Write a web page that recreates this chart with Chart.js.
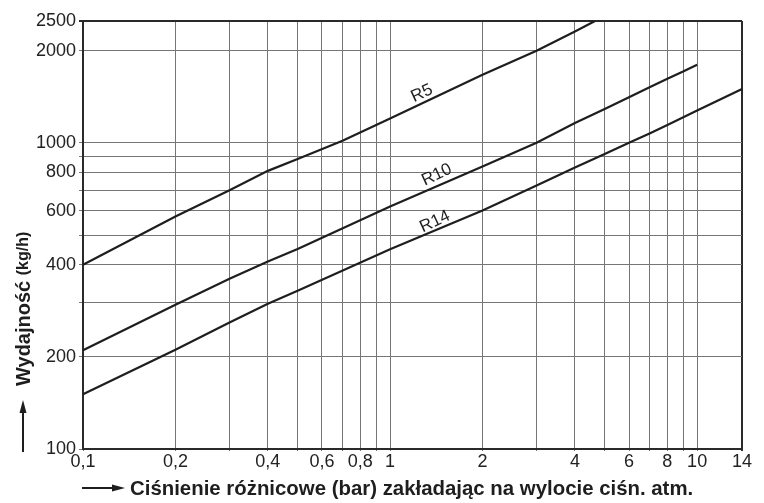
<!DOCTYPE html>
<html>
<head>
<meta charset="utf-8">
<script src="https://cdn.jsdelivr.net/npm/chart.js@4.4.1/dist/chart.umd.min.js"></script>
<style>
    html, body { margin: 0; padding: 0; background: #fff; }
    #wrap { width: 764px; height: 503px; }
</style>
</head>
<body>
<div id="wrap"><canvas id="chart" width="764" height="503"></canvas></div>
<script>

/* ---------- Data ---------- */

// differential pressure (bar) / capacity (kg/h)
const r5Pressure = [0.1, 0.2, 0.3, 0.4, 0.5, 0.7, 1, 2, 3, 4, 4.65];
const r5Flow = [400, 575, 700, 810, 885, 1015, 1200, 1670, 2000, 2310, 2500];

const r10Pressure = [0.1, 0.2, 0.3, 0.4, 0.5, 1, 2, 3, 4, 5, 6, 7, 8, 9, 10];
const r10Flow = [210, 296, 360, 410, 450, 620, 837, 1000, 1160, 1290, 1410, 1520, 1620, 1710, 1800];

const r14Pressure = [0.1, 0.2, 0.3, 0.4, 0.5, 1, 2, 3, 4, 5, 6, 7, 8, 10, 14];
const r14Flow = [151, 211, 259, 298, 329, 449, 601, 725, 830, 920, 1000, 1073, 1143, 1275, 1498];

const xGrid = [0.1, 0.2, 0.3, 0.4, 0.5, 0.6, 0.7, 0.8, 0.9, 1, 2, 3, 4, 5, 6, 7, 8, 9, 10, 14];
const xTickLabels = [0.1, 0.2, 0.4, 0.6, 0.8, 1, 2, 4, 6, 8, 10, 14];

const yGrid = [100, 200, 300, 400, 500, 600, 700, 800, 900, 1000, 2000, 2500];
const yTickLabels = [100, 200, 400, 600, 800, 1000, 2000, 2500];

const seriesNames = ["R5", "R10", "R14"];

/* ---------- Helpers ---------- */

const FONT = "'Liberation Sans', Arial, sans-serif";
const INK = "#1e1e1e";

function toPoints(xs, ys) {
    return xs.map((x, i) => ({ x: x, y: ys[i] }));
}

function lineDataset(label, xs, ys) {
    return {
        label: label,
        data: toPoints(xs, ys),
        borderColor: INK,
        borderWidth: 2.2,
        pointRadius: 0,
        tension: 0,
        fill: false
    };
}

// curve captions, anchored in data coords
const curveLabels = [
    { text: "R5", x: 1.27, y: 1450 },
    { text: "R10", x: 1.42, y: 786 },
    { text: "R14", x: 1.40, y: 553 }
];

const curveLabelPlugin = {
    id: "curveLabels",
    afterDatasetsDraw(chart) {
        const ctx = chart.ctx;
        const xs = chart.scales.x;
        const ys = chart.scales.y;
        ctx.save();
        ctx.fillStyle = INK;
        ctx.font = "17px " + FONT;
        ctx.textAlign = "center";
        ctx.textBaseline = "middle";
        curveLabels.forEach(l => {
            ctx.save();
            ctx.translate(xs.getPixelForValue(l.x), ys.getPixelForValue(l.y));
            ctx.rotate(-25 * Math.PI / 180);
            ctx.fillText(l.text, 0, 0);
            ctx.restore();
        });
        ctx.restore();
    }
};

const axisTitlePlugin = {
    id: "axisTitles",
    afterDraw(chart) {
        const ctx = chart.ctx;
        const area = chart.chartArea;
        ctx.save();
        ctx.fillStyle = INK;
        ctx.strokeStyle = INK;
        ctx.lineWidth = 2;

        /* x title with arrow */
        const ty = 488;
        ctx.beginPath();
        ctx.moveTo(area.left - 1, ty);
        ctx.lineTo(area.left + 32, ty);
        ctx.stroke();
        ctx.beginPath();
        ctx.moveTo(area.left + 42, ty);
        ctx.lineTo(area.left + 29, ty - 3.5);
        ctx.lineTo(area.left + 29, ty + 3.5);
        ctx.closePath();
        ctx.fill();

        ctx.font = "bold 20.4px " + FONT;
        ctx.textAlign = "left";
        ctx.textBaseline = "middle";
        ctx.fillText("Ciśnienie różnicowe (bar) zakładając na wylocie ciśn. atm.", area.left + 47, ty + 1);

        /* y title with arrow */
        const tx = 23;
        ctx.beginPath();
        ctx.moveTo(tx, area.bottom + 3);
        ctx.lineTo(tx, 410);
        ctx.stroke();
        ctx.beginPath();
        ctx.moveTo(tx, 400);
        ctx.lineTo(tx - 3.5, 413);
        ctx.lineTo(tx + 3.5, 413);
        ctx.closePath();
        ctx.fill();

        ctx.translate(tx + 1, 386);
        ctx.rotate(-Math.PI / 2);
        ctx.textBaseline = "middle";
        ctx.font = "bold 20px " + FONT;
        ctx.fillText("Wydajność", 0, 0);
        const w = ctx.measureText("Wydajność ").width;
        ctx.font = "bold 16px " + FONT;
        ctx.fillText("(kg/h)", w, 0);

        ctx.restore();
    }
};

/* ---------- Chart ---------- */

const frameColor = "#2a2a2a";
const gridColor = "#767676";

new Chart(document.getElementById("chart"), {
    type: "line",
    data: {
        datasets: [
            lineDataset(seriesNames[0], r5Pressure, r5Flow),
            lineDataset(seriesNames[1], r10Pressure, r10Flow),
            lineDataset(seriesNames[2], r14Pressure, r14Flow)
        ]
    },
    options: {
        responsive: false,
        animation: false,
        layout: { padding: { left: 0, right: 22, top: 21, bottom: 0 } },
        plugins: {
            legend: { display: false },
            tooltip: { enabled: false }
        },
        scales: {
            x: {
                type: "logarithmic",
                min: 0.1,
                max: 14,
                afterBuildTicks(scale) {
                    scale.ticks = xGrid.map(v => ({ value: v }));
                },
                afterFit(scale) {
                    scale.height = 54;
                },
                ticks: {
                    autoSkip: false,
                    maxRotation: 0,
                    padding: 0,
                    color: "#222",
                    font: { family: FONT, size: 18 },
                    callback: v => xTickLabels.includes(v) ? String(v).replace(".", ",") : ""
                },
                grid: {
                    color: c => c.tick && c.tick.value === 14 ? frameColor : gridColor,
                    lineWidth: c => c.tick && c.tick.value === 14 ? 2 : 1,
                    tickLength: 2
                },
                border: { color: frameColor, width: 2 }
            },
            y: {
                type: "logarithmic",
                min: 100,
                max: 2500,
                afterBuildTicks(scale) {
                    scale.ticks = yGrid.map(v => ({ value: v }));
                },
                afterFit(scale) {
                    scale.width = 83;
                },
                ticks: {
                    autoSkip: false,
                    padding: 3,
                    color: "#222",
                    font: { family: FONT, size: 18 },
                    callback: v => yTickLabels.includes(v) ? String(v) : ""
                },
                grid: {
                    color: c => c.tick && c.tick.value === 2500 ? frameColor : gridColor,
                    lineWidth: c => c.tick && c.tick.value === 2500 ? 2 : 1,
                    tickLength: 4
                },
                border: { color: frameColor, width: 2 }
            }
        }
    },
    plugins: [curveLabelPlugin, axisTitlePlugin]
});

</script>
</body>
</html>
